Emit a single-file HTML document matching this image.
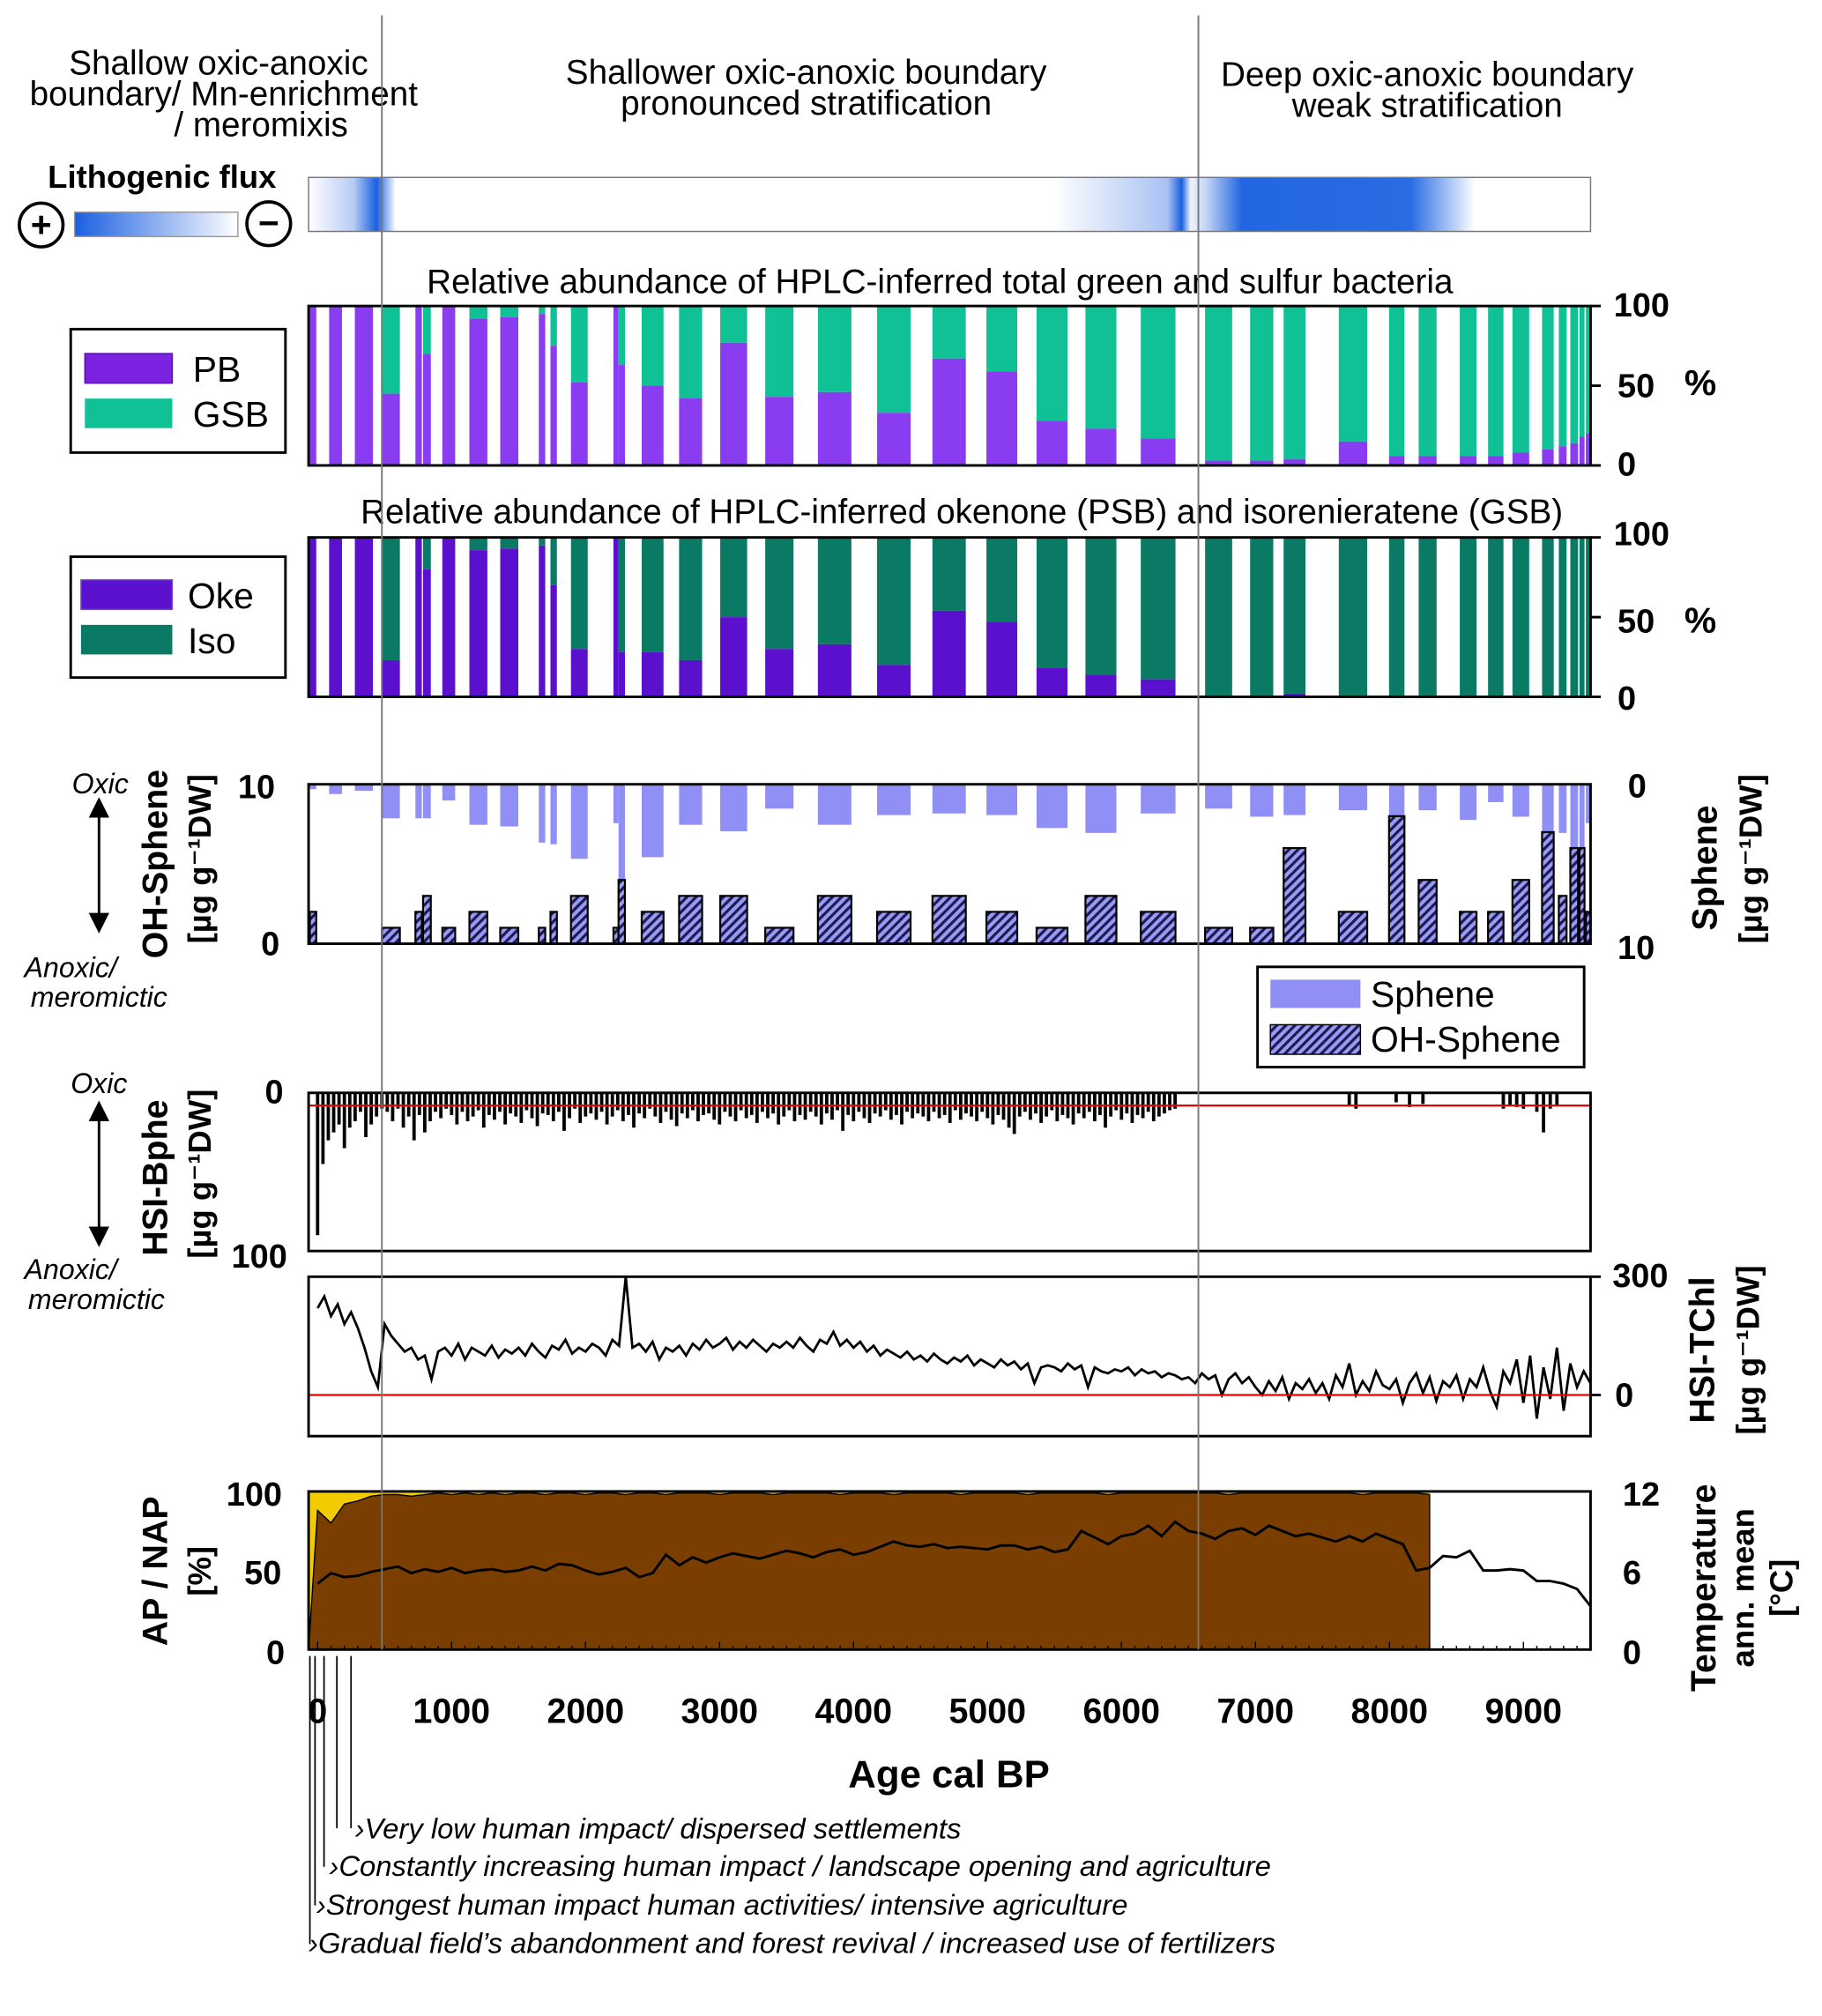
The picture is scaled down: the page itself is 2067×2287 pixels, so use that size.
<!DOCTYPE html>
<html><head><meta charset="utf-8"><style>
html,body{margin:0;padding:0;background:#fff}
svg{display:block}
text{font-family:"Liberation Sans","DejaVu Sans",sans-serif;fill:#000}
</style></head><body>
<svg id="chart" xmlns="http://www.w3.org/2000/svg" width="2067" height="2287" viewBox="0 0 1417 1568" preserveAspectRatio="none">
<defs>
<linearGradient id="litho" x1="0" x2="1" y1="0" y2="0">
<stop offset="0" stop-color="#ffffff"/><stop offset="0.035" stop-color="#b8ccf4"/><stop offset="0.053" stop-color="#1a5fe0"/><stop offset="0.068" stop-color="#ffffff"/>
<stop offset="0.58" stop-color="#ffffff"/><stop offset="0.67" stop-color="#a9c2f2"/><stop offset="0.681" stop-color="#1a5fe0"/><stop offset="0.688" stop-color="#eef3fd"/>
<stop offset="0.70" stop-color="#c4d5f6"/><stop offset="0.728" stop-color="#2266e2"/><stop offset="0.86" stop-color="#2a6ce3"/><stop offset="0.91" stop-color="#ffffff"/><stop offset="1" stop-color="#ffffff"/>
</linearGradient>
<linearGradient id="legGrad" x1="0" x2="1"><stop offset="0" stop-color="#1a5fe0"/><stop offset="1" stop-color="#ffffff"/></linearGradient>
<pattern id="hatch" width="5" height="5" patternUnits="userSpaceOnUse" patternTransform="rotate(45)">
<rect width="5" height="5" fill="#9a9af2"/><rect width="2.2" height="5" fill="#1c1c55"/></pattern>
<marker id="arr" markerWidth="8" markerHeight="8" refX="4" refY="4" orient="auto"><path d="M0,0 L8,4 L0,8 z" fill="#000"/></marker>
</defs>

<g font-size="26.5" text-anchor="middle">
<text x="170" y="58">Shallow oxic-anoxic</text>
<text x="174" y="82">boundary/ Mn-enrichment</text>
<text x="203" y="106">/ meromixis</text>
<text x="627" y="65">Shallower oxic-anoxic boundary</text>
<text x="627" y="89">pronounced stratification</text>
<text x="1110" y="67">Deep oxic-anoxic boundary</text>
<text x="1110" y="91">weak stratification</text>
</g>

<g>
<text x="126" y="146" font-size="25" font-weight="bold" text-anchor="middle">Lithogenic flux</text>
<circle cx="32" cy="175" r="17" fill="#fff" stroke="#000" stroke-width="2.5"/>
<text x="32" y="184" font-size="28" font-weight="bold" text-anchor="middle">+</text>
<rect x="58" y="165" width="127" height="19" fill="url(#legGrad)" stroke="#999"/>
<circle cx="209" cy="174" r="17" fill="#fff" stroke="#000" stroke-width="2.5"/>
<text x="209" y="183" font-size="28" font-weight="bold" text-anchor="middle">−</text>
<rect x="240" y="138" width="997" height="42" fill="url(#litho)" stroke="#777"/>
</g>

<g font-size="26.5" text-anchor="middle">
<text x="731" y="228">Relative abundance of HPLC-inferred total green and sulfur bacteria</text>
<text x="748" y="407">Relative abundance of HPLC-inferred okenone (PSB) and isorenieratene (GSB)</text>
</g>

<g id="p1"></g>
<g id="p2"></g>
<g id="p3"></g>
<g id="p4"></g>
<g id="p5"></g>
<g id="p6"></g>

<g>
<rect x="55" y="256" width="167" height="96" fill="#fff" stroke="#000" stroke-width="2"/>
<rect x="66" y="275" width="68" height="23" fill="#7a22e0" stroke="#5a10b0"/>
<rect x="66" y="310" width="68" height="23" fill="#10c196"/>
<text x="150" y="297" font-size="28">PB</text>
<text x="150" y="332" font-size="28">GSB</text>
</g>
<g>
<rect x="55" y="433" width="167" height="94" fill="#fff" stroke="#000" stroke-width="2"/>
<rect x="63" y="451" width="71" height="23" fill="#5a10cc" stroke="#7a40e0"/>
<rect x="63" y="486" width="71" height="23" fill="#0a7a65"/>
<text x="146" y="473" font-size="28">Oke</text>
<text x="146" y="508" font-size="28">Iso</text>
</g>
<g>
<rect x="978" y="752" width="254" height="78" fill="#fff" stroke="#000" stroke-width="2"/>
<rect x="988" y="762" width="70" height="22" fill="#8f8ff5"/>
<rect x="988" y="797" width="70" height="23" fill="url(#hatch)" stroke="#000"/>
<text x="1066" y="783" font-size="28">Sphene</text>
<text x="1066" y="818" font-size="28">OH-Sphene</text>
</g>

<g font-weight="bold">
<text x="1255" y="246" font-size="26">100</text><text x="1258" y="309" font-size="26">50</text><text x="1310" y="307" font-size="28">%</text><text x="1258" y="370" font-size="26">0</text>
<text x="1255" y="424" font-size="26">100</text><text x="1258" y="492" font-size="26">50</text><text x="1310" y="492" font-size="28">%</text><text x="1258" y="552" font-size="26">0</text>
<text x="185" y="621" font-size="26">10</text><text x="203" y="743" font-size="26">0</text>
<text x="1266" y="620" font-size="26">0</text><text x="1258" y="746" font-size="26">10</text>
<text transform="translate(130,672) rotate(-90)" font-size="27" text-anchor="middle">OH-Sphene</text>
<text transform="translate(164,668) rotate(-90)" font-size="25" text-anchor="middle">[µg g⁻¹DW]</text>
<text transform="translate(1335,675) rotate(-90)" font-size="27" text-anchor="middle">Sphene</text>
<text transform="translate(1370,668) rotate(-90)" font-size="25" text-anchor="middle">[µg g⁻¹DW]</text>
<text x="206" y="858" font-size="26">0</text><text x="180" y="986" font-size="26">100</text>
<text transform="translate(130,916) rotate(-90)" font-size="27" text-anchor="middle">HSI-Bphe</text>
<text transform="translate(164,913) rotate(-90)" font-size="25" text-anchor="middle">[µg g⁻¹DW]</text>
<text x="1254" y="1001" font-size="26">300</text><text x="1256" y="1094" font-size="26">0</text>
<text transform="translate(1333,1050) rotate(-90)" font-size="27" text-anchor="middle">HSI-TChl</text>
<text transform="translate(1368,1050) rotate(-90)" font-size="25" text-anchor="middle">[µg g⁻¹DW]</text>
<text x="176" y="1171" font-size="26">100</text><text x="190" y="1232" font-size="26">50</text><text x="207" y="1294" font-size="26">0</text>
<text transform="translate(130,1222) rotate(-90)" font-size="27" text-anchor="middle">AP / NAP</text>
<text transform="translate(164,1222) rotate(-90)" font-size="25" text-anchor="middle">[%]</text>
<text x="1262" y="1171" font-size="26">12</text><text x="1262" y="1232" font-size="26">6</text><text x="1262" y="1294" font-size="26">0</text>
<text transform="translate(1334,1235) rotate(-90)" font-size="27" text-anchor="middle">Temperature</text>
<text transform="translate(1364,1235) rotate(-90)" font-size="25" text-anchor="middle">ann. mean</text>
<text transform="translate(1394,1235) rotate(-90)" font-size="25" text-anchor="middle">[°C]</text>
<text x="738" y="1390" font-size="30" text-anchor="middle">Age cal BP</text>
</g>

<g font-size="22" font-style="italic">
<text x="78" y="617" text-anchor="middle">Oxic</text>
<line x1="77" y1="640" x2="77" y2="628" stroke="#000" stroke-width="2" marker-end="url(#arr)"/>
<line x1="77" y1="640" x2="77" y2="718" stroke="#000" stroke-width="2" marker-end="url(#arr)"/>
<text x="55" y="760" text-anchor="middle">Anoxic/</text><text x="77" y="783" text-anchor="middle">meromictic</text>
<text x="77" y="850" text-anchor="middle">Oxic</text>
<line x1="77" y1="880" x2="77" y2="864" stroke="#000" stroke-width="2" marker-end="url(#arr)"/>
<line x1="77" y1="880" x2="77" y2="962" stroke="#000" stroke-width="2" marker-end="url(#arr)"/>
<text x="55" y="995" text-anchor="middle">Anoxic/</text><text x="75" y="1018" text-anchor="middle">meromictic</text>
</g>

<g font-size="22.5" font-style="italic" stroke-width="1.2">
<line x1="241" y1="1288" x2="241" y2="1512" stroke="#000"/>
<line x1="245" y1="1288" x2="245" y2="1482" stroke="#000"/>
<line x1="252" y1="1288" x2="252" y2="1452" stroke="#000"/>
<line x1="262" y1="1288" x2="262" y2="1422" stroke="#000"/>
<line x1="273" y1="1288" x2="273" y2="1422" stroke="#000"/>
<text x="276" y="1430">›Very low human impact/ dispersed settlements</text>
<text x="256" y="1459">›Constantly increasing human impact / landscape opening and agriculture</text>
<text x="246" y="1489">›Strongest human impact human activities/ intensive agriculture</text>
<text x="240" y="1519">›Gradual field’s abandonment and forest revival / increased use of fertilizers</text>
</g>
</svg>

<script>
const sampleStart = [-58,86,278,480,730,787,931,1133,1363,1651,1738,1891,2208,2246,2419,2698,3005,3341,3734,4176,4589,4992,5366,5731,6144,6624,6960,7210,7622,7997,8218,8525,8736,8918,9139,9264,9350,9418,9466];
const sampleEnd   = [-10,182,413,614,778,845,1027,1267,1498,1699,1786,2016,2246,2294,2582,2870,3206,3552,3984,4426,4838,5222,5597,5962,6403,6826,7133,7373,7834,8112,8352,8650,8851,9043,9226,9322,9408,9456,9504];
const pbPercent   = [100,100,100,45,100,70,100,92,93,95,75,52,100,63,50,42,77,43,46,33,67,59,28,23,17,3,3,4,15,6,6,6,6,8,10,12,14,18,20];
const okePercent  = [100,100,100,23,100,80,100,92,93,95,70,30,100,28,28,23,50,30,33,20,54,47,18,14,11,0,0,2,0,0,0,0,0,0,0,0,0,0,0];
const spheneVals  = [0.3,0.6,0.4,2.1,2.1,2.1,1.0,2.5,2.6,3.6,3.7,4.6,2.4,6.5,4.5,2.5,2.9,1.5,2.5,1.9,1.8,1.9,2.7,3.0,1.8,1.5,2.0,1.9,1.6,4.0,1.6,2.2,1.1,2.0,3.1,3.0,4.0,4.0,2.4];
const ohSpheneVals= [2,0,0,1,2,3,1,2,1,1,2,3,1,4,2,3,3,1,3,2,3,2,1,3,2,1,1,6,2,8,4,2,2,4,7,3,6,6,2];
const bpheStep = 40;
const bpheVals = [90,45,30,25,20,35,22,18,12,28,20,15,10,
12,18,10,22,15,30,14,25,18,12, 16,10,14,20,12,18,15,11,22,14, 17,12,20,13,15,19,11,16,21,13,
14,18,12,24,16,10,19,15,13,17, 12,20,15,11,18,14,22,13,16,10, 15,19,12,17,21,13,16,11,18,14,
13,17,20,12,15,18,11,16,14,19, 12,16,13,20,15,11,18,14,17,12, 15,20,13,17,11,24,14,18,12,16,
19,13,15,11,17,14,20,12,16,13, 15,18,12,16,14,19,11,17,13,15, 18,12,16,20,14,17,22,26,15,12,
17,13,19,15,11,18,14,16,20,13, 16,12,18,14,22,15,11,17,13,19, 14,16,12,18,15,13,11,10];
const bpheLateAges = [7700,7750,8050,8150,8250,8850,8900,8950,9000,9100,9150,9200,9250];
const bpheLateVals = [8,10,6,9,7,10,8,9,10,12,25,10,8];
const tchlStep = 50;
const tchlVals = [220,250,200,230,180,210,170,120,60,20,
180,150,130,110,120,90,100,40,110,120, 100,130,90,120,110,100,125,95,115,105,
120,100,130,110,95,125,115,140,105,120, 110,130,120,100,140,125,300,120,130,110,
135,90,120,110,125,100,130,115,140,120, 130,145,115,135,120,140,125,110,130,120,
135,120,145,125,110,140,130,160,125,140, 120,135,110,125,100,115,105,95,110,90,
100,85,105,90,80,95,85,100,75,90, 80,70,90,75,85,65,80,30,70,75,
70,60,80,65,75,20,70,60,55,65, 60,70,50,65,55,60,45,55,50,40,
45,30,55,40,50,0,40,55,30,45, 20,0,35,10,45,-10,30,15,40,5,
30,-10,50,20,80,0,35,10,60,25, 15,40,-20,30,55,5,45,-15,35,20,
50,-10,40,20,70,10,-30,60,30,90, -20,100,-60,70,-10,120,-40,80,20,60, 30];
const apStep = 100;
const apVals = [88,80,92,94,97,98,98,97,98,99,98,99,98,99,98,99,99,98,99,99,98,99,99,98,99,99,98,99,99,99,98,99,99,99,98,99,99,99,99,98,
99,99,99,98,99,99,99,99,98,99,99,99,99,98,99,99,99,99,99,98,99,99,99,99,99,99,99,99,98,99,99,99,99,99,99,99,99,99,98,99,99,99,99,98];
const tempStep = 100;
const tempVals = [5.0,5.8,5.5,5.6,5.9,6.1,6.3,5.8,6.1,5.9,6.2,5.8,6.0,6.1,5.9,6.0,6.3,6.0,6.5,6.4,6.0,5.7,5.9,6.2,5.5,5.8,7.2,6.4,7.0,6.6,
7.0,7.3,7.1,6.9,7.2,7.5,7.3,7.0,7.4,7.6,7.2,7.4,7.8,8.2,7.9,7.8,8.0,7.7,7.8,7.7,7.6,7.9,7.9,7.6,7.8,7.4,7.6,9.0,8.5,8.0,
8.6,8.8,9.4,8.6,9.7,9.0,8.8,8.4,9.0,9.2,8.7,9.4,9.0,8.6,8.8,8.5,8.2,8.6,8.2,8.8,8.4,8.0,6.0,6.2,7.1,7.0,7.5,6.0,6.0,6.1,
6.0,5.2,5.2,5.0,4.6,3.3];
const xTicks = [0,1000,2000,3000,4000,5000,6000,7000,8000,9000];
const xTickLabels = ["0","1000","2000","3000","4000","5000","6000","7000","8000","9000"];

const NS="http://www.w3.org/2000/svg";
const L=240,R=1237;
const xs = a => 247 + a*0.1042;
const lin = (d0,d1,r0,r1) => v => r0 + (v-d0)/(d1-d0)*(r1-r0);
function mk(parent,tag,attrs){const e=document.createElementNS(NS,tag);for(const k in attrs)e.setAttribute(k,attrs[k]);parent.appendChild(e);return e;}
function frame(g,y0,y1){const f=mk(g,'rect',{x:L,y:y0,width:R-L,height:y1-y0,fill:'none',stroke:'#000','stroke-width':2});

}
function cx(a){return Math.max(L,Math.min(R,xs(a)));}

function stacked(gid,y0,y1,lower,cLow,cHigh,nm){
  const g=document.getElementById(gid), ys=lin(0,100,y1,y0);
  for(let i=0;i<sampleStart.length;i++){
    const x0=cx(sampleStart[i]), w=Math.max(1.5,cx(sampleEnd[i])-x0);
    const top=mk(g,'rect',{x:x0,y:y0,width:w,height:ys(lower[i])-y0,fill:cHigh});
    
    
    const b=mk(g,'rect',{x:x0,y:ys(lower[i]),width:w,height:y1-ys(lower[i]),fill:cLow});
    
    
  }
  frame(g,y0,y1);
  [0,50,100].forEach(v=>mk(g,'line',{x1:R,x2:R+8,y1:ys(v),y2:ys(v),stroke:'#000','stroke-width':2}));
}
stacked('p1',238,362,pbPercent,'#8a3cf0','#10c196','bacteria');
stacked('p2',418,542,okePercent,'#5a10cc','#0a7a65','pigment');

(function(){
  const g=document.getElementById('p3'), y0=610,y1=734;
  const ysL=lin(0,10,y1,y0), ysR=lin(0,10,y0,736);
  for(let i=0;i<sampleStart.length;i++){
    const x0=cx(sampleStart[i]), w=Math.max(1.5,cx(sampleEnd[i])-x0);
    const s=mk(g,'rect',{x:x0,y:y0,width:w,height:ysR(spheneVals[i])-y0,fill:'#8f8ff5'});
    
    
    if(ohSpheneVals[i]>0){
      const h=mk(g,'rect',{x:x0,y:ysL(ohSpheneVals[i]),width:w,height:y1-ysL(ohSpheneVals[i]),fill:'url(#hatch)',stroke:'#000','stroke-width':1.5});
      
      
    }
  }
  frame(g,y0,y1);
})();

(function(){
  const g=document.getElementById('p4'), y0=850,y1=973, ys=lin(0,100,y0,y1);
  let d='';
  bpheVals.forEach((v,i)=>{const x=cx(i*bpheStep);d+=`M${x},${y0}V${ys(v)}`;});
  bpheLateAges.forEach((a,i)=>{const x=cx(a);d+=`M${x},${y0}V${ys(bpheLateVals[i])}`;});
  const p=mk(g,'path',{d:d,stroke:'#000','stroke-width':2.6,fill:'none'});
  
  
  const r=mk(g,'line',{x1:L,x2:R,y1:ys(8),y2:ys(8),stroke:'#e00','stroke-width':1.5});
  
  
  frame(g,y0,y1);
})();

(function(){
  const g=document.getElementById('p5'), y0=993,y1=1117, ys=lin(0,300,1085,993);
  const pts=tchlVals.map((v,i)=>cx(i*tchlStep)+','+Math.max(y0,Math.min(y1,ys(v)))).join(' ');
  const p=mk(g,'polyline',{points:pts,stroke:'#000','stroke-width':1.9,fill:'none'});
  
  
  const r=mk(g,'line',{x1:L,x2:R,y1:ys(0),y2:ys(0),stroke:'#e00','stroke-width':1.5});
  
  
  frame(g,y0,y1);
  [0,300].forEach(v=>mk(g,'line',{x1:R,x2:R+8,y1:ys(v),y2:ys(v),stroke:'#000','stroke-width':2}));
})();

(function(){
  const g=document.getElementById('p6'), y0=1160,y1=1283;
  const ysA=lin(0,100,y1,y0), ysT=lin(0,12,y1,y0);
  const xEnd=cx((apVals.length-1)*apStep);
  const y=mk(g,'rect',{x:L,y:y0,width:xEnd-L,height:y1-y0,fill:'#f2cc00'});
  
  
  let d=`M${L},${y1}`;
  apVals.forEach((v,i)=>{d+=`L${cx(i*apStep)},${ysA(v)}`;});
  d+=`L${xEnd},${y1}Z`;
  const a=mk(g,'path',{d:d,fill:'#7a3e00',stroke:'#000','stroke-width':1});
  
  
  const pts=tempVals.map((v,i)=>cx(i*tempStep)+','+ysT(v)).join(' ');
  const t=mk(g,'polyline',{points:pts,stroke:'#000','stroke-width':2,fill:'none'});
  
  
  frame(g,y0,y1);
  for(let a2=0;a2<=9500;a2+=100){const x=xs(a2);mk(g,'line',{x1:x,x2:x,y1:y1,y2:y1-(a2%1000===0?6:3),stroke:'#000','stroke-width':1});}
  xTicks.forEach((v,i)=>{
    const tx=mk(g,'text',{x:xs(v),y:1340,'font-size':27,'font-weight':'bold','text-anchor':'middle'});
    tx.textContent=xTickLabels[i];
    
    
  });
})();

const svg=document.getElementById('chart');
[297,932].forEach(x=>{
  const l=mk(svg,'line',{x1:x,x2:x,y1:12,y2:1283,stroke:'#777','stroke-width':1.3});
  
  
});
</script>
</body></html>
